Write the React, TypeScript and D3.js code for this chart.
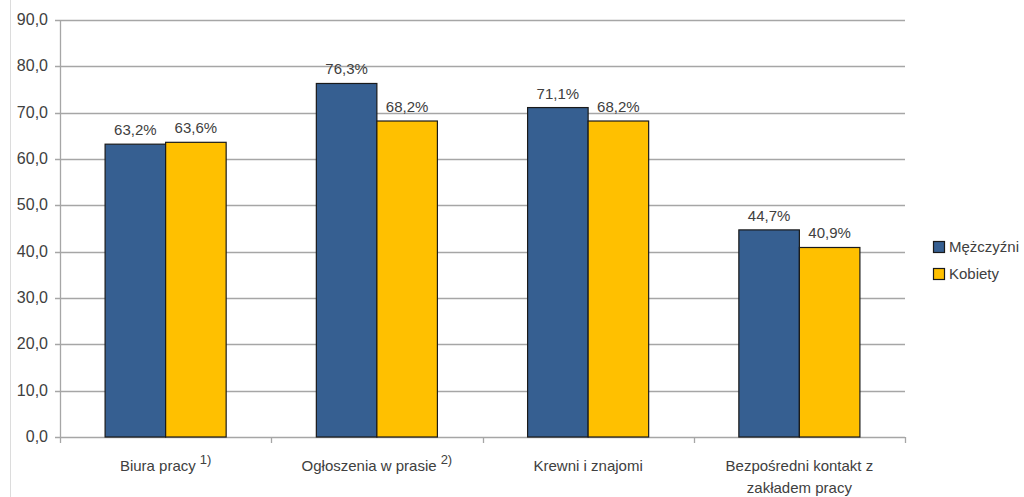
import * as d3 from "d3";

// categories and their superscript footnotes
const categories = ["Biura pracy", "Ogłoszenia w prasie", "Krewni i znajomi", "Bezpośredni kontakt z|zakładem pracy"];
const footnotes = ["1)", "2)", "", ""];
const seriesNames = ["Mężczyźni", "Kobiety"];
const men = [63.2, 76.3, 71.1, 44.7];
const women = [63.6, 68.2, 68.2, 40.9];
const yTicks = [0, 10, 20, 30, 40, 50, 60, 70, 80, 90];
const colors = ["#365F91", "#FFC000"];

const W = 1024;
const H = 497;
const fmt = (v: number) => v.toFixed(1).replace(".", ",");

export default function App() {
  const x = d3.scaleBand<number>().domain(d3.range(categories.length)).range([60, 905]);
  const inner = d3
    .scaleBand<number>()
    .domain([0, 1])
    .range([0, x.bandwidth()])
    .paddingInner(0)
    .paddingOuter(0.745);
  const y = d3.scaleLinear().domain([0, 90]).range([437, 20]);
  const series = [men, women];
  const font = "'Liberation Sans', Arial, sans-serif";
  const textCol = "#404040";

  return (
    <svg width={W} height={H} style={{ position: "absolute", left: 0, top: 0, background: "#fff" }} fontFamily={font}>
      <line x1={10.5} x2={10.5} y1={0} y2={H} stroke="#dcdcdc" />
      {/* gridlines and y axis labels */}
      {yTicks.map((t) => (
        <g key={t}>
          <line x1={55} x2={905} y1={Math.round(y(t)) + 0.5} y2={Math.round(y(t)) + 0.5} stroke="#a6a6a6" strokeWidth={1.3} />
          <text x={48} y={y(t) + 5} textAnchor="end" fontSize={16} fill={textCol}>
            {fmt(t)}
          </text>
        </g>
      ))}
      <line x1={60.5} x2={60.5} y1={y(90)} y2={y(0)} stroke="#a6a6a6" strokeWidth={1.3} />
      {/* category tick marks */}
      {d3.range(categories.length + 1).map((i) => {
        const xx = Math.round(60 + i * x.step()) + 0.5;
        return <line key={i} x1={xx} x2={xx} y1={y(0)} y2={y(0) + 6} stroke="#a6a6a6" strokeWidth={1.3} />;
      })}
      {/* bars */}
      {series.map((vals, s) =>
        vals.map((v, i) => {
          const bx = (x(i) as number) + (inner(s) as number);
          return (
            <g key={`${s}-${i}`}>
              <rect
                x={bx}
                y={y(v)}
                width={inner.bandwidth()}
                height={y(0) - y(v)}
                fill={colors[s]}
                stroke="#1a1a1a"
                strokeWidth={1.2}
              />
              <text x={bx + inner.bandwidth() / 2} y={y(v) - 9} textAnchor="middle" fontSize={15} fill={textCol}>
                {fmt(v)}%
              </text>
            </g>
          );
        })
      )}
      {/* category labels */}
      {categories.map((c, i) => {
        const cx = (x(i) as number) + x.bandwidth() / 2;
        const lines = c.split("|");
        return (
          <text key={c} x={cx} y={471} textAnchor="middle" fontSize={15} fill={textCol}>
            {lines.map((ln, k) => (
              <tspan key={k} x={cx} dy={k === 0 ? 0 : 22}>
                {ln}
                {footnotes[i] && (
                  <tspan fontSize={13} dy={-7} dx={4}>
                    {footnotes[i]}
                  </tspan>
                )}
              </tspan>
            ))}
          </text>
        );
      })}
      {/* legend */}
      {seriesNames.map((n, s) => (
        <g key={n} transform={`translate(933, ${241 + s * 27})`}>
          <rect x={0.5} y={0.5} width={11} height={11} fill={colors[s]} stroke="#1a1a1a" strokeWidth={1.2} />
          <text x={16} y={11} fontSize={15} fill={textCol}>
            {n}
          </text>
        </g>
      ))}
    </svg>
  );
}
